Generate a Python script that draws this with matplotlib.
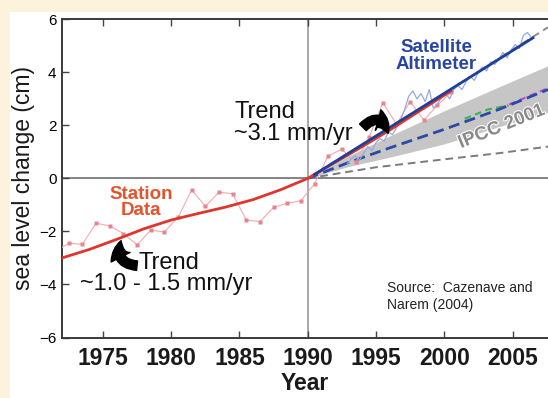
import matplotlib
matplotlib.use('Agg')
import numpy as np
import matplotlib.pyplot as plt
from matplotlib.patches import Rectangle, FancyArrowPatch
import matplotlib.patheffects as pe

# station (tide gauge) yearly values
station_years = [1971.5, 1972.5, 1973.5, 1974.5, 1975.5, 1976.5, 1977.5, 1978.5, 1979.5,
                 1980.5, 1981.5, 1982.5, 1983.5, 1984.5, 1985.5, 1986.5, 1987.5, 1988.5,
                 1989.5, 1990.5, 1991.5, 1992.5, 1993.5, 1994.5, 1995.5, 1996.5, 1997.5,
                 1998.5, 1999.5, 2000.5]
station_vals = [-2.75, -2.45, -2.48, -1.69, -1.79, -2.08, -2.51, -1.95, -2.02,
                -1.47, -0.43, -1.05, -0.52, -0.58, -1.57, -1.63, -1.09, -0.94,
                -0.84, -0.2, 0.85, 1.1, 0.6, 1.55, 2.85, 2.05, 2.9,
                2.2, 2.75, 3.25]

# station trend curve
trend_years = [1972, 1974, 1976, 1978, 1980, 1982, 1984, 1986, 1988, 1990,
               1992, 1994, 1996, 1998, 2000.5]
trend_vals = [-3.0, -2.68, -2.3, -1.9, -1.57, -1.32, -1.08, -0.8, -0.43, 0.0,
              0.6, 1.2, 1.82, 2.48, 3.3]

# satellite altimeter
sat_years = [1992.9, 1993.2, 1993.5, 1993.8, 1994.1, 1994.4, 1994.7, 1995.0, 1995.3,
             1995.6, 1995.9, 1996.2, 1996.5, 1996.8, 1997.1, 1997.4, 1997.7, 1998.0,
             1998.3, 1998.6, 1998.9, 1999.2, 1999.5, 1999.8, 2000.1, 2000.4, 2000.7,
             2001.0, 2001.3, 2001.6, 2001.9, 2002.2, 2002.5, 2002.8, 2003.1, 2003.4,
             2003.7, 2004.0, 2004.3, 2004.6, 2004.9, 2005.2, 2005.5, 2005.8, 2006.1,
             2006.4]
sat_vals = [0.55, 0.75, 0.85, 0.7, 0.95, 1.2, 1.05, 1.35, 1.5,
            1.4, 1.75, 1.65, 1.9, 2.2, 2.6, 3.1, 3.3, 3.0,
            3.2, 2.9, 3.35, 2.65, 2.8, 3.05, 3.2, 3.0, 3.35,
            3.5, 3.35, 3.65, 3.85, 3.7, 4.0, 4.2, 4.05, 4.4,
            4.3, 4.5, 4.75, 4.55, 4.85, 5.05, 4.9, 5.4, 5.5,
            5.3]
sat_trend_years = [1990.5, 2006.5]
sat_trend_vals = [0.15, 5.3]

# IPCC 2001 projections
ipcc_years = [1990, 1993, 1996, 2000, 2004, 2007.6]
ipcc_upper = [0, 0.85, 1.6, 2.55, 3.45, 4.25]
ipcc_lower = [0, 0.45, 0.8, 1.3, 1.95, 2.5]
ipcc_mid = [0, 0.6, 1.15, 1.85, 2.6, 3.35]
green_years = [2001.5, 2003.2, 2004.7]
green_vals = [2.25, 2.6, 2.75]
magenta_years = [2004.0, 2005.5, 2007.6]
magenta_vals = [2.62, 2.95, 3.4]
upper_dash_years = [1990, 1995, 2000, 2005, 2007.6]
upper_dash_vals = [0, 1.6, 3.2, 4.85, 5.7]
lower_dash_years = [1990, 1995, 2000, 2004, 2007.6]
lower_dash_vals = [0, 0.42, 0.72, 0.95, 1.2]

plt.rcParams['font.family'] = ['Liberation Sans', 'DejaVu Sans']

fig = plt.figure(figsize=(5.48, 3.98), dpi=100, facecolor='#fdf3dd')
fig.patches.append(Rectangle((10/548, 0), 1, 1 - 12/398, transform=fig.transFigure,
                             facecolor='white', edgecolor='none', zorder=-5))
ax = fig.add_axes([62/548, 1 - 337.5/398, 486/548, 318.2/398])
ax.set_facecolor('white')
ax.set_zorder(2)

ax.axvline(1990, color='#9a9a9a', lw=1.2, zorder=1)
ax.axhline(0, color='#6e6e6e', lw=1.2, zorder=1)

ax.fill_between(ipcc_years, ipcc_lower, ipcc_upper, color='#c6c6c6', lw=0, zorder=2)
ax.plot(upper_dash_years, upper_dash_vals, color='#8a8a8a', lw=1.4, dashes=(4, 2.5), zorder=3)
ax.plot(lower_dash_years, lower_dash_vals, color='#7a7a7a', lw=1.4, dashes=(4, 2.5), zorder=3)
ax.plot(green_years, green_vals, color='#3fb34f', lw=1.6, dashes=(3, 2), zorder=3)
ax.plot(magenta_years, magenta_vals, color='#c04fc8', lw=1.6, dashes=(3, 2), zorder=3)
ax.plot(ipcc_years, ipcc_mid, color='#2a4aa8', lw=2, dashes=(4, 2), zorder=4)

ax.plot(station_years, station_vals, color='#f2aab0', lw=0.8, marker='s', markersize=2.8,
        markerfacecolor='#e8848e', markeredgecolor='none', zorder=4)
ax.plot(sat_years, sat_vals, color='#93a9dc', lw=0.9, zorder=4)
ax.plot(trend_years, trend_vals, color='#e0352b', lw=2, zorder=5)
ax.plot(sat_trend_years, sat_trend_vals, color='#1f3f9a', lw=2, zorder=6)

ax.set_xlim(1972, 2007.6)
ax.set_ylim(-6, 6)
ax.set_xticks([1975, 1980, 1985, 1990, 1995, 2000, 2005])
ax.set_yticks([-6, -4, -2, 0, 2, 4, 6])
ax.tick_params(axis='x', direction='in', top=True, length=5, width=1, color='#444444',
               pad=7, labelsize=16.5, labelcolor='#1a1a1a')
ax.tick_params(axis='y', direction='in', length=5, width=1, color='#444444', pad=4,
               labelsize=11)
for lab in ax.get_xticklabels():
    lab.set_weight('bold')
for s in ['left', 'bottom', 'top']:
    ax.spines[s].set_color('#3a3a3a')
    ax.spines[s].set_linewidth(1.4)
ax.spines['right'].set_visible(False)

ax.set_xlabel('Year', fontsize=16.5, weight='bold', color='#1a1a1a', labelpad=1)
ax.set_ylabel('sea level change (cm)', fontsize=16.5, color='#1a1a1a', labelpad=3)

ax.text(1977.8, -0.9, 'Station\nData', fontsize=13.5, weight='bold',
        color='#e5532d', ha='center', va='center', linespacing=0.95)
ax.text(1999.4, 4.62, 'Satellite\nAltimeter', fontsize=13.5, weight='bold',
        color='#2846a0', ha='center', va='center', linespacing=0.95)
ax.text(2004.2, 1.94, 'IPCC 2001', fontsize=13.5, weight='bold',
        color='#8a8a8a', ha='center', va='center', rotation=22,
        path_effects=[pe.withStroke(linewidth=1.5, foreground='white')])
ax.text(1984.6, 2.1, 'Trend\n~3.1 mm/yr', fontsize=17, color='#111111',
        ha='left', va='center', linespacing=1.0)
ax.text(1977.6, -3.2, 'Trend', fontsize=17, color='#111111', ha='left', va='center')
ax.text(1973.3, -4.0, '~1.0 - 1.5 mm/yr', fontsize=17, color='#111111', ha='left', va='center')
ax.text(1995.8, -4.45, 'Source:  Cazenave and\nNarem (2004)', fontsize=10,
        color='#222222', ha='left', va='center', linespacing=1.25)

arr1 = FancyArrowPatch((1977.7, -3.3), (1976.4, -2.25), connectionstyle='arc3,rad=-0.7',
                       arrowstyle='simple,head_length=0.7,head_width=0.9,tail_width=0.4',
                       mutation_scale=17, color='black', zorder=7)
ax.add_patch(arr1)
arr2 = FancyArrowPatch((1993.9, 1.85), (1995.95, 1.6), connectionstyle='arc3,rad=-0.9',
                       arrowstyle='simple,head_length=0.7,head_width=0.9,tail_width=0.4',
                       mutation_scale=17, color='black', zorder=7)
ax.add_patch(arr2)

plt.savefig('out.png', dpi=100, facecolor=fig.get_facecolor())
